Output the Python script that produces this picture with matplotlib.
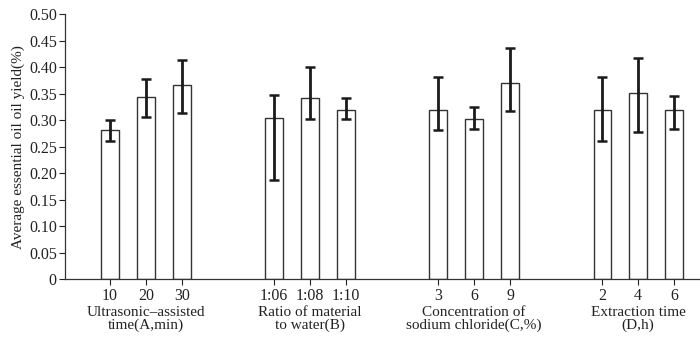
import numpy as np
import matplotlib
matplotlib.use('Agg')
import matplotlib.pyplot as plt
from matplotlib.transforms import blended_transform_factory

plt.rcParams['font.family'] = ['Liberation Serif', 'DejaVu Serif']

groups = ['Ultrasonic\u2013assisted\ntime(A,min)', 'Ratio of material\nto water(B)',
          'Concentration of\nsodium chloride(C,%)', 'Extraction time\n(D,h)']
levels = [['10', '20', '30'], ['1:06', '1:08', '1:10'], ['3', '6', '9'], ['2', '4', '6']]
means = [[0.281, 0.344, 0.367], [0.305, 0.341, 0.320], [0.320, 0.302, 0.371], [0.320, 0.351, 0.320]]
err_top = [[0.301, 0.377, 0.413], [0.348, 0.401, 0.341], [0.381, 0.325, 0.437], [0.381, 0.417, 0.345]]
err_bot = [[0.260, 0.307, 0.314], [0.187, 0.302, 0.302], [0.282, 0.284, 0.318], [0.260, 0.278, 0.284]]

fig = plt.figure(figsize=(7, 3.37), dpi=100)
ax = fig.add_axes([0.093, 0.171, 0.907, 0.787])

gap = 4.56
xs, labs = [], []
for g in range(4):
    x = g * gap + np.arange(3)
    m = np.array(means[g])
    ax.bar(x, m, width=0.48, facecolor='white', edgecolor='#333333', linewidth=1.0, zorder=2)
    # error bars centred on the range, not always on the mean
    mid = (np.array(err_top[g]) + np.array(err_bot[g])) / 2
    half = (np.array(err_top[g]) - np.array(err_bot[g])) / 2
    ax.errorbar(x, mid, yerr=half, fmt='none', ecolor='#1a1a1a', elinewidth=2.0,
                capsize=3.5, capthick=1.8, zorder=3)
    xs += list(x)
    labs += levels[g]

ax.set_xlim(-1.25, 3 * gap + 2 + 0.72)
ax.set_ylim(0, 0.5)
ax.set_yticks(np.arange(0, 0.51, 0.05))
ax.set_yticklabels(['0'] + [f'{v:.2f}' for v in np.arange(0.05, 0.51, 0.05)])
ax.set_xticks(xs)
ax.set_xticklabels(labs)
ax.tick_params(axis='both', direction='out', length=4, width=0.8, labelsize=11.5, colors='#222222', pad=2)
ax.tick_params(axis='x', pad=2)
for s in ['top', 'right']:
    ax.spines[s].set_visible(False)
for s in ['left', 'bottom']:
    ax.spines[s].set_linewidth(0.9)
    ax.spines[s].set_color('#333333')

tr = blended_transform_factory(ax.transData, fig.transFigure)
for g in range(4):
    ax.text(g * gap + 1, 0.092, groups[g], transform=tr, ha='center', va='top',
            fontsize=11, linespacing=1.0, color='#222222')

ax.set_ylabel('Average essential oil oil yield(%)', fontsize=11, color='#222222', labelpad=3)

fig.savefig('out.png', dpi=100)
